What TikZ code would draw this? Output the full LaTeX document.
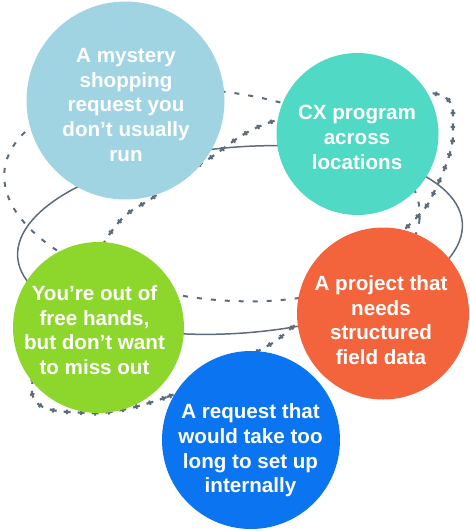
\documentclass[tikz,border=0pt]{standalone}
\usepackage{fontspec}
\setmainfont{Liberation Sans}
\definecolor{lc}{RGB}{93,108,122}
\definecolor{cA}{RGB}{160,212,226}
\definecolor{cB}{RGB}{80,217,196}
\definecolor{cC}{RGB}{141,214,44}
\definecolor{cD}{RGB}{243,100,60}
\definecolor{cE}{RGB}{11,116,240}
\begin{document}
\begin{tikzpicture}[x=1pt,y=-1pt,
  solidln/.style={draw=lc, line width=1.5pt},
  dashln/.style={draw=lc, line width=2pt, dash pattern=on 5pt off 9pt},
  tickln/.style={draw=lc, line width=2.2pt, dash pattern=on 7pt off 7pt,
     postaction={draw=lc, line width=4.6pt, dash pattern=on 2pt off 12pt, dash phase=11.5pt}},
  bubble/.style={circle, inner sep=0pt, draw=none},
  txt/.style={text=white, align=center, inner sep=0pt,
     font=\fontsize{20.6pt}{24.6pt}\selectfont\bfseries}]
\useasboundingbox (0,0) rectangle (470,531);

% orbit lines (behind circles)
\draw[solidln, rotate around={4.5:(240,240)}] (240,240) ellipse [x radius=223pt, y radius=93pt];
\draw[dashln, rotate around={-7:(212,195)}] (212,195) ellipse [x radius=209pt, y radius=104pt];
\draw[tickln] plot[smooth cycle, tension=0.6] coordinates {
  (85,413) (167,397) (260,350) (295,325) (407,227) (436,188) (453,132)
  (430,93) (277,120) (207,160) (155,196) (107,238) (32,385)};

% circles
\node[bubble, fill=cA, minimum size=198pt] (c1) at (125.5,100.5) {};
\node[bubble, fill=cB, minimum size=162pt] (c2) at (357.5,134) {};
\node[bubble, fill=cC, minimum size=171pt] (c3) at (98.5,327.5) {};
\node[bubble, fill=cD, minimum size=172pt] (c4) at (383,313.5) {};
\node[bubble, fill=cE, minimum size=178pt] (c5) at (251,440) {};

% texts
\node[txt] (t1) at (126,105) {A mystery\\shopping\\request you\\don’t usually\\run};
\node[txt] (t2) at (357,137.5) {CX program\\across\\locations};
\node[txt] (t3) at (94.5,330) {You’re out of\\free hands,\\but don’t want\\to miss out};
\node[txt] (t4) at (381,320) {A project that\\needs\\structured\\field data};
\node[txt] (t5) at (250.5,450.5) {A request that\\would take too\\long to set up\\internally};
\end{tikzpicture}
\end{document}
